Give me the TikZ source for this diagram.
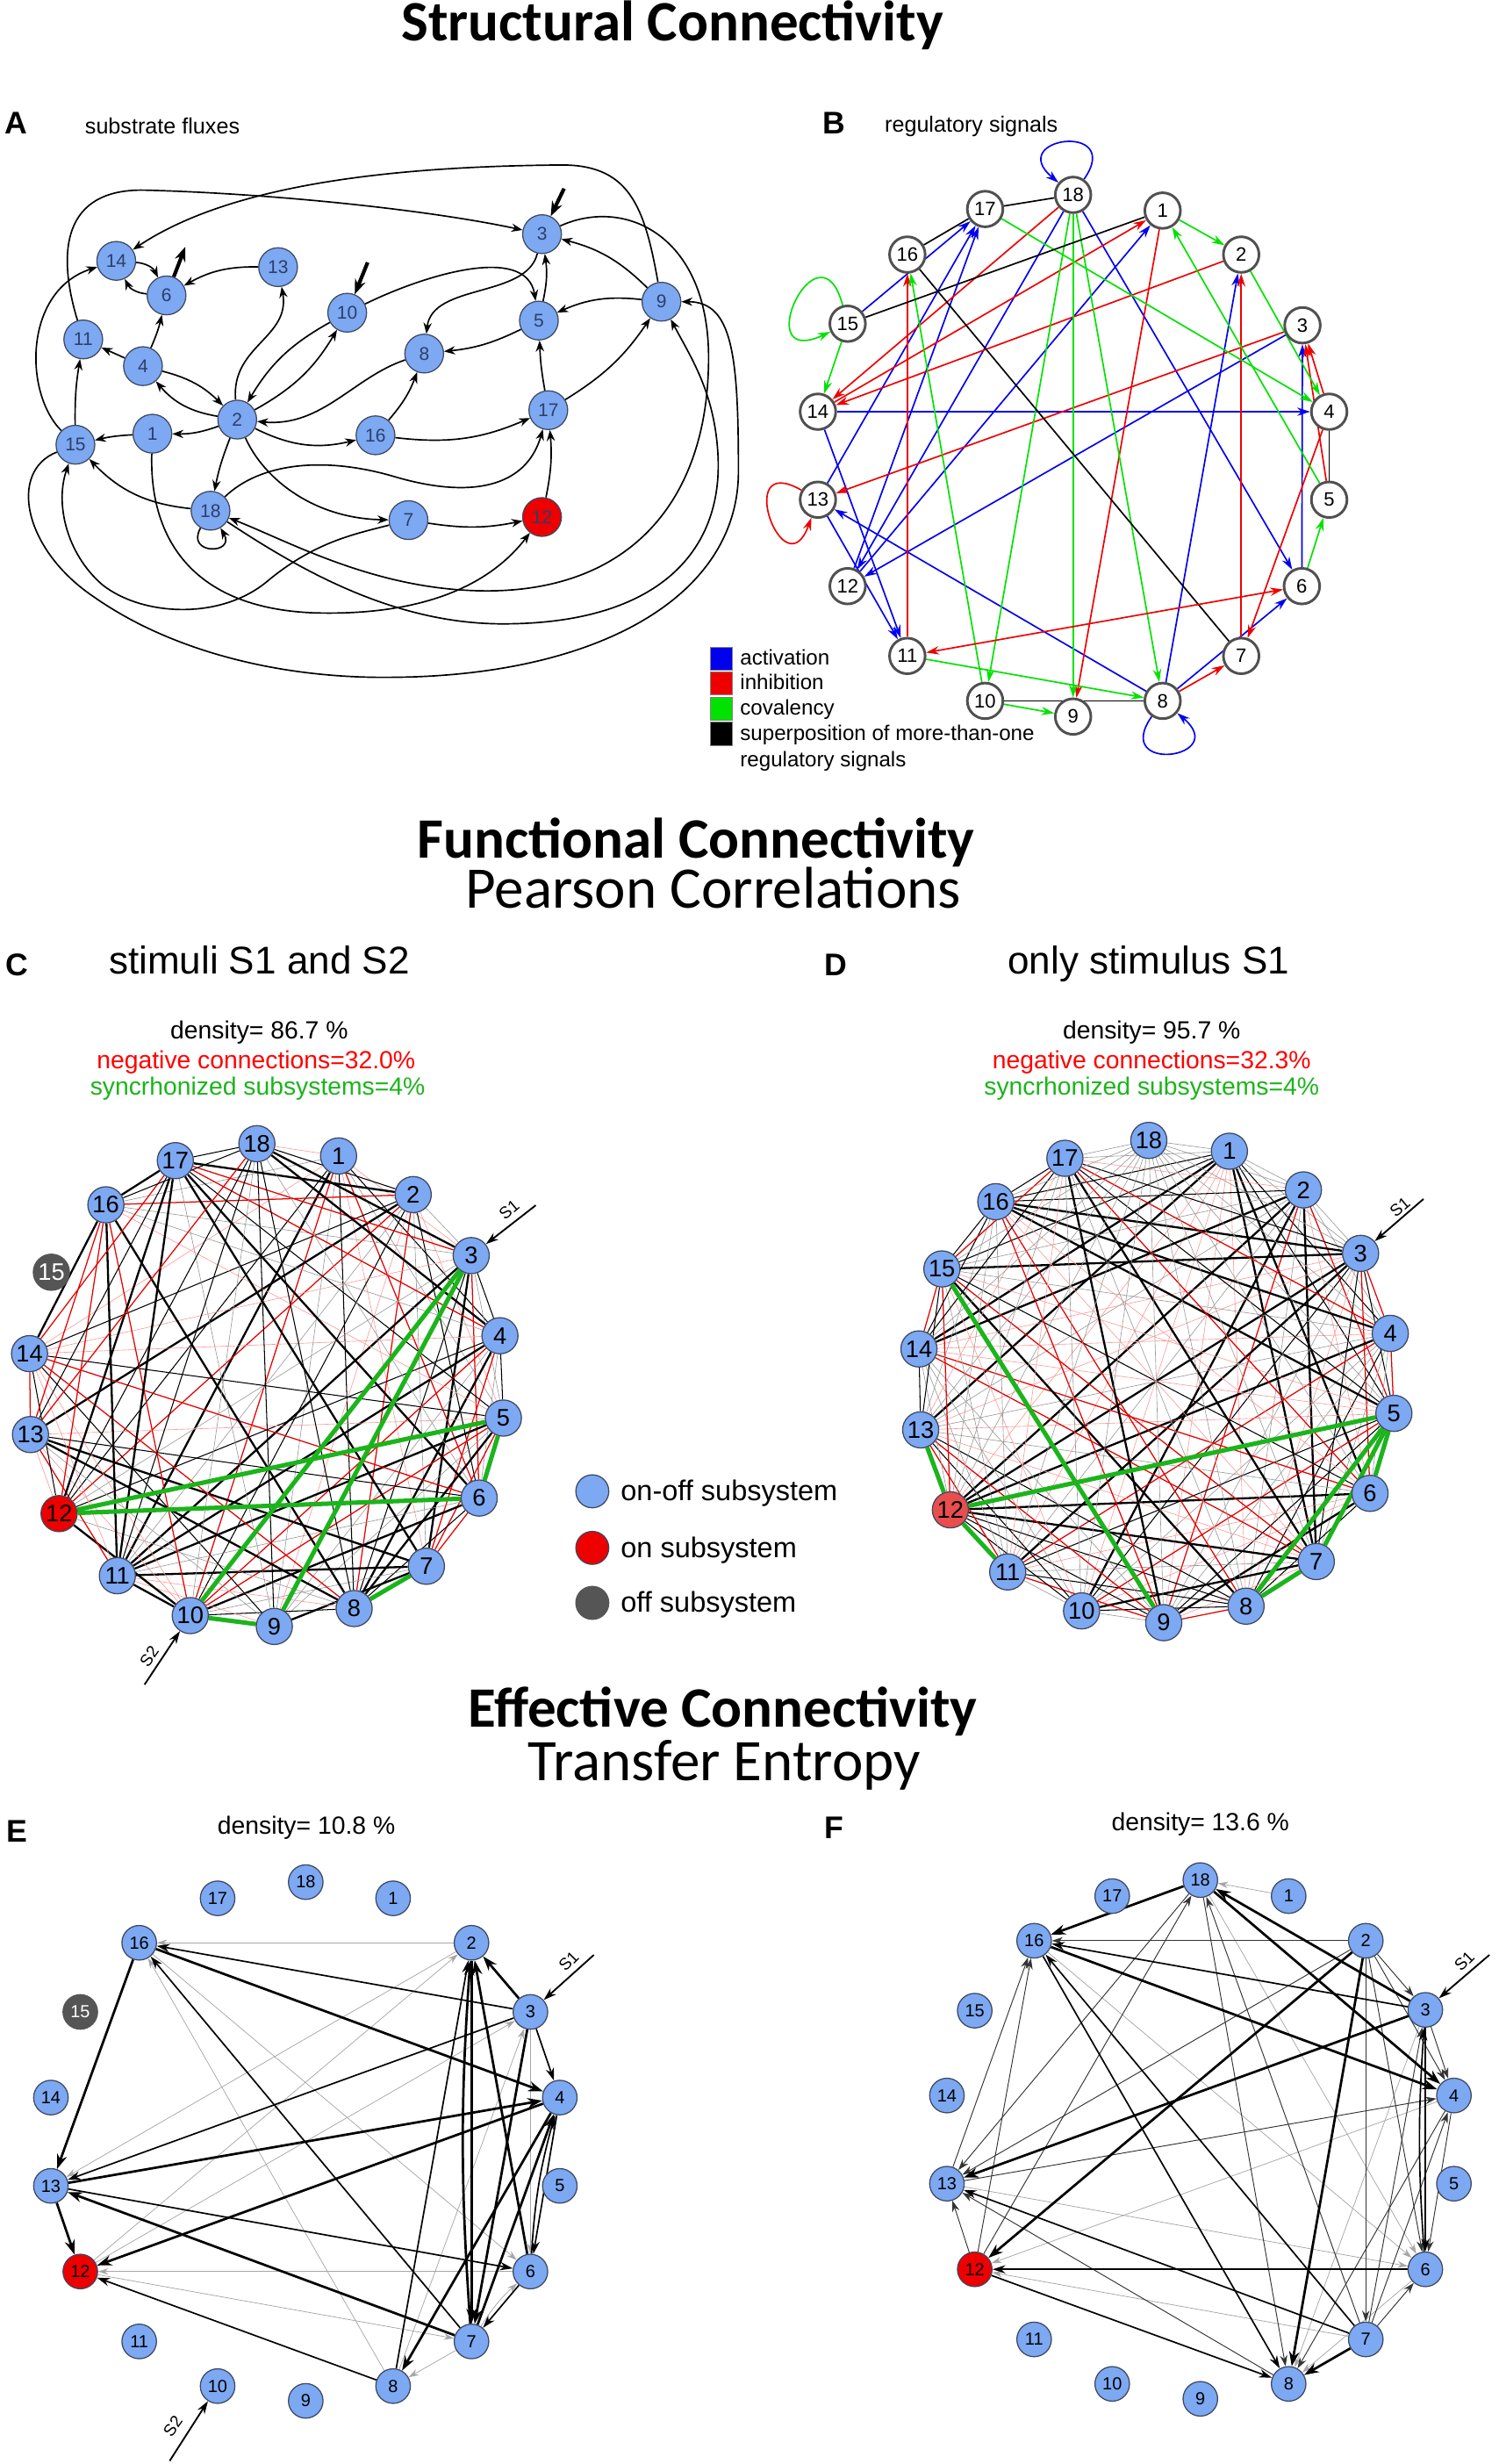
\documentclass[tikz,border=0pt]{standalone}
\usepackage{fontspec}
\usepackage{tikz}
\usetikzlibrary{arrows.meta}
\setmainfont{Liberation Sans}
\newfontfamily\titlefont{Carlito}
\newcommand{\fsz}[1]{\fontsize{#1}{#1}\selectfont}
\definecolor{nodeblue}{RGB}{125,168,242}
\definecolor{nodeline}{RGB}{62,72,96}
\definecolor{numblue}{RGB}{45,62,105}
\definecolor{onred}{RGB}{238,0,0}
\definecolor{lightred}{RGB}{232,78,78}
\definecolor{offgray}{RGB}{85,85,85}
\definecolor{ringgray}{RGB}{80,80,80}
\definecolor{actblue}{RGB}{0,0,238}
\definecolor{inhred}{RGB}{238,0,0}
\definecolor{covgreen}{RGB}{0,226,0}
\definecolor{syncgreen}{RGB}{28,180,28}
\pgfdeclarelayer{paper}
\pgfdeclarelayer{edges}
\pgfsetlayers{paper,edges,main}

\begin{document}
\begin{tikzpicture}[x=0.03cm,y=-0.03cm,
  anode/.style={circle,draw=nodeline,line width=0.6pt,fill=nodeblue,minimum size=0.74cm,inner sep=0pt,text=numblue,font=\fsz{10pt}},
  bnode/.style={circle,draw=ringgray,line width=1.4pt,fill=white,minimum size=0.68cm,inner sep=0pt,font=\fsz{10.5pt}},
  cnode/.style={circle,draw=nodeline,line width=0.6pt,fill=nodeblue,minimum size=0.69cm,inner sep=0pt,font=\fsz{13pt}},
  enode/.style={circle,draw=nodeline,line width=0.6pt,fill=nodeblue,minimum size=0.66cm,inner sep=0pt,font=\fsz{9.5pt}},
  flux/.style={line width=0.8pt,-{Stealth[length=6pt,width=4.5pt]}},
  fluxio/.style={line width=2pt,-{Stealth[length=8pt,width=6pt]}},
  sig/.style={line width=0.8pt,-{Stealth[length=7pt,width=4.5pt]}},
  supline/.style={line width=0.8pt,black},
  posstrong/.style={black,line width=1.1pt},
  posmid/.style={black,line width=0.5pt},
  posweak/.style={black!40,line width=0.3pt},
  negstrong/.style={red!90!black,line width=0.6pt},
  negweak/.style={red!40,line width=0.3pt},
  sync/.style={syncgreen,line width=2.4pt},
  tstrong/.style={black,line width=1.3pt,-{Stealth[length=8pt,width=5.5pt]}},
  tmid/.style={black,line width=0.8pt,-{Stealth[length=7pt,width=4.5pt]}},
  tthin/.style={black!80,line width=0.45pt,-{Stealth[length=6pt,width=4pt]}},
  tlight/.style={black!35,line width=0.35pt,-{Stealth[length=5.5pt,width=3.5pt]}},
  stim/.style={black,line width=0.9pt,-{Stealth[length=7pt,width=4.5pt]}},
  stimlab/.style={font=\fsz{9pt},inner sep=0.5pt},
  legtext/.style={anchor=base west,font=\fsz{11.5pt}}]
\useasboundingbox (0,0) rectangle (954,1568);
\begin{pgfonlayer}{paper}
\fill[white] (0,0) rectangle (954,1568);
\end{pgfonlayer}

% titles
\node[anchor=base,font=\titlefont\bfseries\fsz{31pt}] (tstruct) at (428,26) {Structural Connectivity};
\node[anchor=base,font=\titlefont\bfseries\fsz{31pt}] (tfunc) at (443,546) {Functional Connectivity};
\node[anchor=base,font=\titlefont\fsz{32pt}] (tpear) at (454,578) {Pearson Correlations};
\node[anchor=base,font=\titlefont\bfseries\fsz{31pt}] (teff) at (460,1099) {Effective Connectivity};
\node[anchor=base,font=\titlefont\fsz{32pt}] (ttrans) at (461,1133) {Transfer Entropy};
\foreach \p/\x/\y in {A/10/85, B/531/85, C/11/621, D/532/621, E/11/1172, F/531/1170}
  \node[anchor=base,font=\bfseries\fsz{17pt}] (lab\p) at (\x,\y) {\p};

% A substrate fluxes
\node[anchor=base west,font=\fsz{12pt}] (asub) at (50,85) {substrate fluxes};
\foreach \n/\x/\y in {1/97/276, 2/151/267, 3/345/149, 4/91/233, 5/343/204, 6/106/188, 7/260/331, 8/270/225, 9/421/192, 10/221/199, 11/53/216, 13/177/170, 14/74/166, 15/48/283, 16/239/277, 17/349/261, 18/134/325}
  \node[anode] (a\n) at (\x,\y) {\n};
\node[anode,fill=onred] (a12) at (345,329) {12};
\coordinate (aout6) at (118,157);
\coordinate (ain10) at (234,167);
\coordinate (ain3) at (359,120);
\begin{pgfonlayer}{edges}
\draw[flux] (a11) .. controls (36,160) and (40,120) .. (92,121) .. controls (170,123) and (270,133) .. (a3);
\draw[flux] (a9) .. controls (410,130) and (400,104) .. (355,105) .. controls (260,106) and (150,115) .. (a14);
\draw[flux] (a3) .. controls (398,125) and (452,150) .. (451,230) .. controls (450,320) and (400,376) .. (310,376) .. controls (240,376) and (185,345) .. (a18);
\draw[flux] (a18) .. controls (190,362) and (250,397) .. (320,397) .. controls (420,397) and (460,350) .. (457,290) .. controls (455,250) and (440,228) .. (a9);
\draw[flux] (a15) .. controls (5,300) and (15,350) .. (60,380) .. controls (110,415) and (180,432) .. (250,431) .. controls (380,430) and (470,380) .. (470,300) .. controls (470,225) and (466,192) .. (a9);
\draw[flux] (a7) .. controls (225,340) and (200,345) .. (170,370) .. controls (140,395) and (90,392) .. (65,372) .. controls (42,352) and (35,320) .. (a15);
\draw[flux] (a1) .. controls (95,340) and (120,387) .. (200,390) .. controls (270,392) and (312,372) .. (a12);
\draw[flux] (a18) .. controls (165,295) and (205,290) .. (250,303) .. controls (300,318) and (335,310) .. (a17);
\draw[flux] (a2) to[bend right=5] (a18);
\draw[flux] (a18) to[bend left=20] (a15);
\draw[flux] (a18) to[out=-120,in=-60,looseness=4] (a18);
\draw[flux] (a2) .. controls (168,305) and (200,330) .. (a7);
\draw[flux] (a7) to[bend right=10] (a12);
\draw[flux] (a12) to[bend right=8] (a17);
\draw[flux] (a16) to[bend right=15] (a17);
\draw[flux] (a2) to[bend right=20] (a16);
\draw[flux] (a2) to[bend left=10] (a1);
\draw[flux] (a1) to[bend right=5] (a15);
\draw[flux] (a15) to[bend left=5] (a11);
\draw[flux] (a15) .. controls (15,250) and (15,185) .. (a14);
\draw[flux] (a16) to[bend right=10] (a8);
\draw[flux] (a8) .. controls (225,240) and (205,272) .. (a2);
\draw[flux] (a17) to[bend right=12] (a9);
\draw[flux] (a17) to[bend left=4] (a5);
\draw[flux] (a5) to[bend left=10] (a8);
\draw[flux] (a5) to[bend right=10] (a3);
\draw[flux] (a9) to[bend right=15] (a3);
\draw[flux] (a9) to[bend right=15] (a5);
\draw[flux] (a3) .. controls (335,190) and (275,180) .. (a8);
\draw[flux] (a10) .. controls (270,175) and (335,155) .. (a5);
\draw[flux] (a2) to[bend right=15] (a10);
\draw[flux] (a10) to[bend right=15] (a2);
\draw[flux] (a2) .. controls (147,220) and (185,215) .. (a13);
\draw[flux] (a4) to[bend left=15] (a2);
\draw[flux] (a2) to[bend left=20] (a4);
\draw[flux] (a4) -- (a11);
\draw[flux] (a4) to[bend right=5] (a6);
\draw[flux] (a6) to[bend left=30] (a14);
\draw[flux] (a14) to[bend left=30] (a6);
\draw[flux] (a13) to[bend right=15] (a6);
\draw[fluxio] (a6) -- (aout6);
\draw[fluxio] (ain10) -- (a10);
\draw[fluxio] (ain3) -- (a3);
\end{pgfonlayer}

% B regulatory signals
\node[anchor=base west,font=\fsz{12pt}] (breg) at (559,84) {regulatory signals};
\foreach \n/\x/\y in {18/683/124, 17/627/133, 1/740/134, 16/577.5/162, 2/790/162, 15/539.5/206, 3/829/207, 14/520.6/262, 4/846/262, 13/520.6/318, 5/846/318, 12/539.5/373, 6/828.6/373, 11/577.5/417.4, 7/790/417.4, 10/627/446, 8/740/446, 9/683/456}
  \node[bnode] (b\n) at (\x,\y) {\n};
\begin{pgfonlayer}{edges}
\foreach \ea/\eb in {15/17, 13/17, 12/17, 18/12, 3/12, 12/1, 18/6, 8/2, 6/3, 14/4, 14/11, 13/11, 8/13, 8/6}
  \draw[sig,color=actblue] (b\ea) -- (b\eb);
\foreach \ea/\eb in {18/14, 2/14, 14/1, 1/9, 3/13, 11/16, 8/7, 7/2, 4/7, 4/3, 5/3}
  \draw[sig,color=inhred] (b\ea) -- (b\eb);
\foreach \ea/\eb in {1/2, 2/4, 17/4, 5/1, 18/10, 18/9, 18/8, 10/16, 11/8, 10/9, 6/5, 15/14}
  \draw[sig,color=covgreen] (b\ea) -- (b\eb);
\foreach \ea/\eb in {16/17, 17/18, 1/15, 16/7, 4/5, 10/8}
  \draw[supline] (b\ea) -- (b\eb);
\draw[sig,{Stealth[length=7pt,width=4.5pt]}-{Stealth[length=7pt,width=4.5pt]},color=inhred] (b11) -- (b6);
\draw[sig,color=actblue] (b18) to[out=55,in=140,looseness=7] (b18);
\draw[sig,color=covgreen] (b15) to[out=105,in=205,looseness=8] (b15);
\draw[sig,color=inhred] (b13) to[out=150,in=250,looseness=7] (b13);
\draw[sig,color=actblue] (b8) to[out=235,in=320,looseness=7] (b8);
\end{pgfonlayer}
\node[draw=black!50,fill=actblue,minimum width=0.42cm,minimum height=0.44cm,inner sep=0pt] (lgact) at (459,419) {};
\node[draw=black!50,fill=inhred,minimum width=0.42cm,minimum height=0.44cm,inner sep=0pt] (lginh) at (459,435) {};
\node[draw=black!50,fill=covgreen,minimum width=0.42cm,minimum height=0.44cm,inner sep=0pt] (lgcov) at (459,451) {};
\node[draw=black!50,fill=black,minimum width=0.42cm,minimum height=0.44cm,inner sep=0pt] (lgsup) at (459,467) {};
\node[legtext] at (467,423) {activation};
\node[legtext] at (467,439) {inhibition};
\node[legtext] at (467,455) {covalency};
\node[legtext] at (467,471) {superposition of more-than-one};
\node[legtext] at (467,488) {regulatory signals};

% C stimuli S1 and S2
\node[anchor=base,font=\fsz{21pt}] (ctitle) at (165,620) {stimuli S1 and S2};
\node[anchor=base,font=\fsz{13.5pt}] (cdens) at (165,661) {density= 86.7 \%};
\node[anchor=base,font=\fsz{13.5pt},text=red] (cneg) at (163,680) {negative connections=32.0\%};
\node[anchor=base,font=\fsz{13.5pt},text=syncgreen] (csync) at (164,697) {syncrhonized subsystems=4\%};
\foreach \n/\x/\y in {18/163.5/727.8, 17/111.6/738.6, 1/215.5/735.6, 16/67.4/766.7, 2/263/760.2, 3/299.9/799, 14/18.8/861.4, 4/318.2/850, 13/19.4/912.9, 5/320.4/902.4, 6/305/953.3, 11/74.7/1002.7, 7/271.4/996.7, 10/121.1/1028.1, 9/174.6/1035, 8/225.4/1023.6}
  \node[cnode] (c\n) at (\x,\y) {\n};
\node[cnode,fill=onred] (c12) at (37.6,963.2) {12};
\node[cnode,fill=offgray,draw=offgray,text=white] (c15) at (32.7,809.6) {15};
\coordinate (cS1) at (341,767);
\coordinate (cS2) at (92,1072);
\begin{pgfonlayer}{edges}
\foreach \i in {1,...,17}{
  \pgfmathtruncatemacro\k{\i+1}
  \foreach \j in {\k,...,18}{
    \pgfmathtruncatemacro\rv{mod(mod(\i*\j*37,97)*13+\i*53+\j*29+mod(\i*\i,97)*\j,97)}
    \ifnum\i=15 \else\ifnum\j=15 \else
      \ifnum\rv>12
        \ifnum\rv<28 \draw[negstrong] (c\i) -- (c\j);
        \else\ifnum\rv<42 \draw[negweak] (c\i) -- (c\j);
        \else\ifnum\rv<58 \draw[posstrong] (c\i) -- (c\j);
        \else\ifnum\rv<77 \draw[posmid] (c\i) -- (c\j);
        \else \draw[posweak] (c\i) -- (c\j);
        \fi\fi\fi\fi
      \fi
    \fi\fi
  }
}
\foreach \ea/\eb in {3/10, 3/9, 5/12, 6/12, 5/6, 7/8, 10/9}
  \draw[sync] (c\ea) -- (c\eb);
\draw[stim] (cS1) -- (c3);
\draw[stim] (cS2) -- (c10);
\end{pgfonlayer}
\node[stimlab,rotate=40] (cS1lab) at (324,770) {S1};
\node[stimlab,rotate=55] (cS2lab) at (95,1054) {S2};

% legend of subsystems
\node[cnode,minimum size=0.63cm] (lgonoff) at (377,949) {};
\node[cnode,minimum size=0.63cm,fill=onred] (lgon) at (377,985) {};
\node[cnode,minimum size=0.63cm,fill=offgray,draw=offgray] (lgoff) at (377,1020) {};
\node[anchor=base west,font=\fsz{15.5pt}] at (391,955) {on-off subsystem};
\node[anchor=base west,font=\fsz{15.5pt}] at (391,991) {on subsystem};
\node[anchor=base west,font=\fsz{15.5pt}] at (391,1026) {off subsystem};

% D only stimulus S1
\node[anchor=base,font=\fsz{21pt}] (dtitle) at (731,620) {only stimulus S1};
\node[anchor=base,font=\fsz{13.5pt}] (ddens) at (733,661) {density= 95.7 \%};
\node[anchor=base,font=\fsz{13.5pt},text=red] (dneg) at (733,680) {negative connections=32.3\%};
\node[anchor=base,font=\fsz{13.5pt},text=syncgreen] (dsync) at (733,697) {syncrhonized subsystems=4\%};
\foreach \n/\x/\y in {18/731.2/725.7, 17/677.8/737.1, 1/782.5/732.6, 16/633.8/764.7, 2/829.6/757.2, 15/599.5/807.5, 3/866/797.6, 14/584.9/858.4, 4/884.9/848.5, 13/586/909.9, 5/887.2/899.4, 6/872/950.3, 11/641.4/1000.3, 7/837.8/993.7, 10/688.4/1025.1, 9/740.7/1032.6, 8/793.1/1022.1}
  \node[cnode] (d\n) at (\x,\y) {\n};
\node[cnode,fill=lightred] (d12) at (604.9,960.8) {12};
\coordinate (dS1) at (906,763);
\begin{pgfonlayer}{edges}
\foreach \i in {1,...,17}{
  \pgfmathtruncatemacro\k{\i+1}
  \foreach \j in {\k,...,18}{
    \pgfmathtruncatemacro\rv{mod(mod(\i*\j*41,97)*17+\i*31+\j*59+mod(\j*\j,97)*\i,97)}
    \ifnum\rv>3
      \ifnum\rv<20 \draw[negstrong] (d\i) -- (d\j);
      \else\ifnum\rv<35 \draw[negweak] (d\i) -- (d\j);
      \else\ifnum\rv<52 \draw[posstrong] (d\i) -- (d\j);
      \else\ifnum\rv<73 \draw[posmid] (d\i) -- (d\j);
      \else \draw[posweak] (d\i) -- (d\j);
      \fi\fi\fi\fi
    \fi
  }
}
\foreach \ea/\eb in {15/9, 5/12, 13/12, 12/11, 5/8, 5/7, 7/8, 5/6}
  \draw[sync] (d\ea) -- (d\eb);
\draw[stim] (dS1) -- (d3);
\end{pgfonlayer}
\node[stimlab,rotate=40] (dS1lab) at (891,768) {S1};

% E transfer entropy, S1 and S2
\node[anchor=base,font=\fsz{13.5pt}] (edens) at (195,1167) {density= 10.8 \%};
\foreach \n/\x/\y in {18/194.6/1197.7, 17/138.5/1208, 1/250.2/1208, 16/88.6/1236.3, 2/300.1/1236.3, 3/337.6/1280.3, 14/32.4/1334.8, 4/356.3/1334.8, 13/32.4/1391, 5/356.3/1391, 6/337.6/1445.5, 11/88.6/1490, 7/300.1/1490, 10/138.5/1518.4, 8/250.2/1518.4, 9/194.6/1527.8}
  \node[enode] (e\n) at (\x,\y) {\n};
\node[enode,fill=onred] (e12) at (51.1,1445.5) {12};
\node[enode,fill=offgray,draw=offgray,text=white] (e15) at (51.1,1280.3) {15};
\coordinate (eS1) at (378,1244);
\coordinate (eS2) at (108,1566);
\begin{pgfonlayer}{edges}
\foreach \ea/\eb in {2/16, 16/6, 8/16, 12/2, 2/13, 12/3, 6/12, 12/7, 3/6, 7/8, 8/3}
  \draw[tlight] (e\ea) -- (e\eb);
\foreach \ea/\eb in {3/16, 7/16, 3/13, 13/6, 8/12, 3/4, 6/7, 8/2, 4/6}
  \draw[tmid] (e\ea) -- (e\eb);
\foreach \ea/\eb in {16/4, 16/13, 13/12, 13/4, 4/12, 7/13, 3/2, 2/7, 3/7, 4/8, 7/4, 6/2}
  \draw[tstrong] (e\ea) -- (e\eb);
\draw[tstrong] (e7) to[bend left=4] (e2);
\draw[tmid] (e6) to[bend left=6] (e4);
\draw[tlight] (e7) to[bend left=8] (e6);
\draw[stim] (eS1) -- (e3);
\draw[stim] (eS2) -- (e10);
\end{pgfonlayer}
\node[stimlab,rotate=45] (eS1lab) at (362,1248) {S1};
\node[stimlab,rotate=55] (eS2lab) at (110,1544) {S2};

% F transfer entropy, only S1
\node[anchor=base,font=\fsz{13.5pt}] (fdens) at (764,1165) {density= 13.6 \%};
\foreach \n/\x/\y in {18/764/1196.4, 17/707.9/1206.6, 1/820.2/1206.6, 16/658.2/1235, 2/869.3/1235, 15/620.4/1279.5, 3/907.2/1279, 14/602.7/1333.5, 4/925.4/1333.5, 13/602.7/1389.6, 5/925.4/1389.6, 6/907.2/1444.1, 11/658.2/1488.7, 7/869.3/1488.7, 10/707.9/1517, 8/820.2/1517, 9/764/1526.5}
  \node[enode] (f\n) at (\x,\y) {\n};
\node[enode,fill=onred] (f12) at (620.4,1444.1) {12};
\coordinate (fS1) at (948,1244);
\begin{pgfonlayer}{edges}
\foreach \ea/\eb in {1/18, 16/6, 13/6, 7/12, 4/12, 18/6, 3/8, 6/8}
  \draw[tlight] (f\ea) -- (f\eb);
\foreach \ea/\eb in {2/16, 13/16, 12/16, 12/13, 18/13, 12/18, 2/13, 13/4, 8/13, 18/8, 7/18, 2/7, 2/3, 2/4, 2/6, 3/4, 4/8, 7/4, 4/6, 7/3, 7/6}
  \draw[tthin] (f\ea) -- (f\eb);
\foreach \ea/\eb in {3/16, 16/8, 7/16, 7/13, 6/12, 12/8, 3/6}
  \draw[tmid] (f\ea) -- (f\eb);
\foreach \ea/\eb in {18/16, 16/4, 3/13, 2/12, 3/18, 18/4, 2/8, 7/8}
  \draw[tstrong] (f\ea) -- (f\eb);
\draw[tmid] (f6) to[bend left=4] (f3);
\draw[stim] (fS1) -- (f3);
\end{pgfonlayer}
\node[stimlab,rotate=45] (fS1lab) at (932,1248) {S1};
\end{tikzpicture}
\end{document}
